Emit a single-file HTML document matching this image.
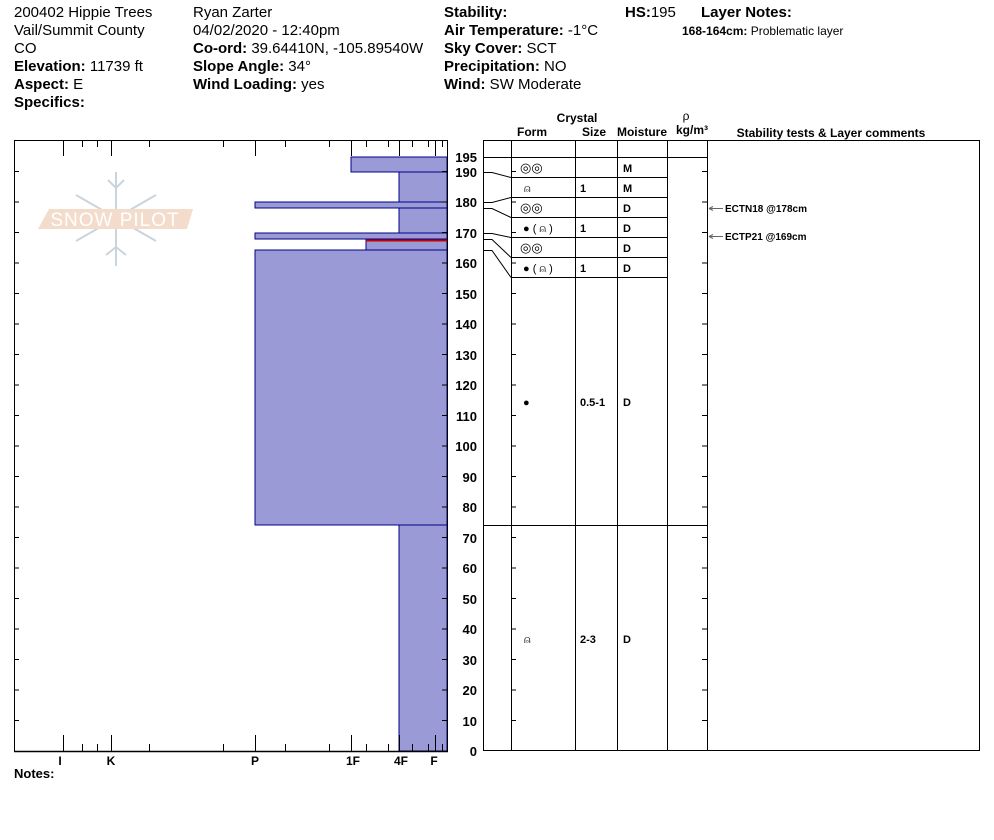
<!DOCTYPE html>
<html><head><meta charset="utf-8"><style>
html,body{margin:0;padding:0;background:#fff;}
svg{display:block;font-family:"Liberation Sans",Arial,sans-serif;}
</style></head><body>
<svg width="994" height="840" viewBox="0 0 994 840" xmlns="http://www.w3.org/2000/svg">
<g font-size="15" fill="#000">
<text x="14" y="17">200402 Hippie Trees</text>
<text x="14" y="35">Vail/Summit County</text>
<text x="14" y="53">CO</text>
<text x="14" y="71"><tspan font-weight="bold">Elevation:</tspan> 11739 ft</text>
<text x="14" y="89"><tspan font-weight="bold">Aspect:</tspan> E</text>
<text x="14" y="107" font-weight="bold">Specifics:</text>
<text x="193" y="17">Ryan Zarter</text>
<text x="193" y="35">04/02/2020 - 12:40pm</text>
<text x="193" y="53"><tspan font-weight="bold">Co-ord:</tspan> 39.64410N, -105.89540W</text>
<text x="193" y="71"><tspan font-weight="bold">Slope Angle:</tspan> 34°</text>
<text x="193" y="89"><tspan font-weight="bold">Wind Loading:</tspan> yes</text>
<text x="444" y="17" font-weight="bold">Stability:</text>
<text x="444" y="35"><tspan font-weight="bold">Air Temperature:</tspan> -1°C</text>
<text x="444" y="53"><tspan font-weight="bold">Sky Cover:</tspan> SCT</text>
<text x="444" y="71"><tspan font-weight="bold">Precipitation:</tspan> NO</text>
<text x="444" y="89"><tspan font-weight="bold">Wind:</tspan>  SW Moderate</text>
<text x="625" y="17"><tspan font-weight="bold">HS:</tspan>195</text>
<text x="701" y="17" font-weight="bold">Layer Notes:</text>
<text x="682" y="35" font-size="12"><tspan font-weight="bold">168-164cm:</tspan> Problematic layer</text>
</g>
<g font-size="12" font-weight="bold" text-anchor="middle">
<text x="577" y="122">Crystal</text>
<text x="532" y="136">Form</text>
<text x="594" y="136">Size</text>
<text x="642" y="136">Moisture</text>
<text x="686" y="120" font-weight="normal">ρ</text>
<text x="692" y="134">kg/m³</text>
<text x="831" y="137">Stability tests &amp; Layer comments</text>
</g>
<g stroke="#c5d0da" stroke-width="2" fill="none" opacity="0.9">
<line x1="116" y1="172" x2="116" y2="266"/>
<line x1="76" y1="195" x2="156" y2="241"/>
<line x1="76" y1="241" x2="156" y2="195"/>
<path d="M108 180 L116 188 L124 180 M106 255 L116 247 L126 255"/>
</g>
<polygon points="49,209 193,209 187,229 38,229" fill="#f3dccb"/>
<text x="115" y="226" font-size="19" fill="#fff" text-anchor="middle" letter-spacing="1">SNOW PILOT</text>
<g fill="#9a9ad6" stroke="#00008b" stroke-width="1">
<rect x="351" y="157" width="96" height="15"/>
<rect x="399" y="172" width="48" height="30"/>
<rect x="255" y="202" width="192" height="6"/>
<rect x="399" y="208" width="48" height="25"/>
<rect x="255" y="233" width="192" height="6"/>
<rect x="366" y="239" width="81" height="11"/>
<rect x="255" y="250" width="192" height="275"/>
<rect x="399" y="525" width="48" height="226"/>
</g>
<line x1="366" y1="240.5" x2="447" y2="240.5" stroke="#c00000" stroke-width="2"/>
<g stroke="#000" stroke-width="1" fill="none">
<polyline points="14.5,140.5 447.5,140.5"/>
<line x1="14.5" y1="140" x2="14.5" y2="751"/>
<line x1="14" y1="751.5" x2="448" y2="751.5" stroke-width="1.5"/>
<line x1="447.5" y1="140" x2="447.5" y2="751"/>
<path d="M63.5 140v16M111.5 140v16M255.5 140v16M351.5 140v16M399.5 140v16M435.5 140v16
M82.5 140v7M97.5 140v7M149.5 140v7M223.5 140v7M285.5 140v7M329.5 140v7M366.5 140v7M388.5 140v7M412.5 140v7M428.5 140v7M442.5 140v7
M63.5 751v-16M111.5 751v-16M255.5 751v-16M351.5 751v-16M399.5 751v-16M435.5 751v-16M14.5 751v-16
M82.5 751v-7M97.5 751v-7M149.5 751v-7M223.5 751v-7M285.5 751v-7M329.5 751v-7M366.5 751v-7M388.5 751v-7M412.5 751v-7M428.5 751v-7M442.5 751v-7"/>
<path d="M14 720.5h5M14 690h5M14 659.5h5M14 629h5M14 598.5h5M14 568h5M14 537.5h5M14 507h5M14 476.5h5M14 446h5M14 415.5h5M14 385h5M14 354.5h5M14 324h5M14 293.5h5M14 263h5M14 232.5h5M14 202h5M14 171.5h5
M447 720.5h-5M447 690h-5M447 659.5h-5M447 629h-5M447 598.5h-5M447 568h-5M447 537.5h-5M447 507h-5M447 476.5h-5M447 446h-5M447 415.5h-5M447 385h-5M447 354.5h-5M447 324h-5M447 293.5h-5M447 263h-5M447 232.5h-5M447 202h-5M447 171.5h-5"/>
</g>
<g font-size="12" font-weight="bold" text-anchor="middle">
<text x="60" y="765">I</text><text x="111" y="765">K</text><text x="255" y="765">P</text>
<text x="353" y="765">1F</text><text x="401" y="765">4F</text><text x="434" y="765">F</text>
</g>
<text x="14" y="778" font-size="13" font-weight="bold">Notes:</text>
<g font-size="13" font-weight="bold" text-anchor="end">
<text x="477" y="162">195</text><text x="477" y="177">190</text><text x="477" y="207">180</text><text x="477" y="238">170</text>
<text x="477" y="268">160</text><text x="477" y="299">150</text><text x="477" y="329">140</text><text x="477" y="360">130</text>
<text x="477" y="390">120</text><text x="477" y="421">110</text><text x="477" y="451">100</text><text x="477" y="482">90</text>
<text x="477" y="512">80</text><text x="477" y="543">70</text><text x="477" y="573">60</text><text x="477" y="604">50</text>
<text x="477" y="634">40</text><text x="477" y="665">30</text><text x="477" y="695">20</text><text x="477" y="726">10</text>
<text x="477" y="756">0</text>
</g>
<g stroke="#000" stroke-width="1" fill="none">
<rect x="483.5" y="140.5" width="496" height="610"/>
<path d="M511.5 140v611M575.5 140v611M617.5 140v611M667.5 140v611M707.5 140v611"/>
<path d="M483 157.5h224M511 177.5h156M511 197.5h156M511 217.5h156M511 237.5h156M511 257.5h156M511 277.5h156M483 525.5h224"/>
<path d="M483 172.5h9l19 5M483 202.5h9l19-5M483 208.5h9l19 9M483 233.5h9l19 4M483 239.5h9l19 18M483 250.5h9l19 27"/>
<path d="M511 720.5h5M511 690h5M511 659.5h5M511 629h5M511 598.5h5M511 568h5M511 537.5h5M511 507h5M511 476.5h5M511 446h5M511 415.5h5M511 385h5M511 354.5h5M511 324h5M511 293.5h5M511 263h5M511 232.5h5M511 202h5M511 171.5h5
M707 720.5h-5M707 690h-5M707 659.5h-5M707 629h-5M707 598.5h-5M707 568h-5M707 537.5h-5M707 507h-5M707 476.5h-5M707 446h-5M707 415.5h-5M707 385h-5M707 354.5h-5M707 324h-5M707 293.5h-5M707 263h-5M707 232.5h-5M707 202h-5M707 171.5h-5"/>
</g>
<g font-size="11" font-weight="bold">
<text x="520" y="172" font-size="13" font-weight="normal">◎◎</text>
<text x="524" y="192" font-size="11" font-weight="normal">⍝</text>
<text x="520" y="212" font-size="13" font-weight="normal">◎◎</text>
<text x="523" y="232" font-weight="normal">● ( ⍝ )</text>
<text x="520" y="252" font-size="13" font-weight="normal">◎◎</text>
<text x="523" y="272" font-weight="normal">● ( ⍝ )</text>
<text x="523" y="406" font-weight="normal">●</text>
<text x="524" y="643" font-weight="normal">⍝</text>
<text x="580" y="192">1</text><text x="580" y="232">1</text><text x="580" y="272">1</text>
<text x="580" y="406">0.5-1</text><text x="580" y="643">2-3</text>
<text x="623" y="172">M</text><text x="623" y="192">M</text><text x="623" y="212">D</text>
<text x="623" y="232">D</text><text x="623" y="252">D</text><text x="623" y="272">D</text>
<text x="623" y="406">D</text><text x="623" y="643">D</text>
</g>
<g stroke="#666" stroke-width="1"><path d="M709 208.5h14M709 236.5h14"/><path d="M709 208.5l4-2M709 208.5l4 2M709 236.5l4-2M709 236.5l4 2"/></g>
<g font-size="10" font-weight="bold">
<text x="725" y="212">ECTN18 @178cm</text>
<text x="725" y="240">ECTP21 @169cm</text>
</g>
</svg>
</body></html>
